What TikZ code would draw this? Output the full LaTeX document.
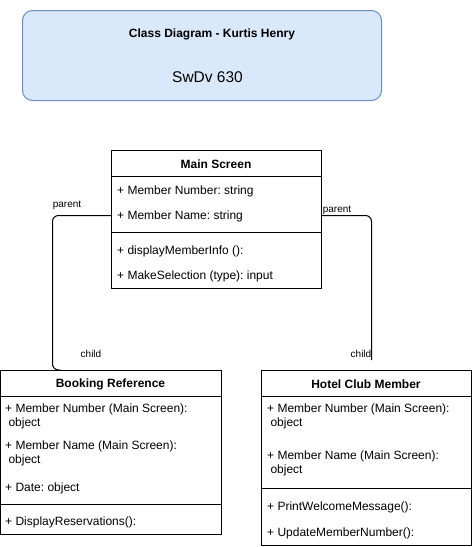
\documentclass[tikz,border=0pt]{standalone}
\usepackage{fontspec}
\setmainfont{Liberation Sans}
\frenchspacing
\begin{document}
\begin{tikzpicture}[x=1pt,y=-1pt,
  classbox/.style={draw=black,line width=1pt,fill=white,anchor=north west,inner sep=0pt},
  titlebox/.style={draw={rgb,255:red,108;green,142;blue,191},fill={rgb,255:red,218;green,232;blue,252},line width=1pt,rounded corners=10pt,anchor=north west,inner sep=0pt},
  item/.style={anchor=west,inner sep=0pt,font=\fontsize{12}{14}\selectfont},
  itemb/.style={anchor=north west,inner sep=0pt,align=left,font=\fontsize{12}{14}\selectfont},
  head/.style={inner sep=0pt,font=\fontsize{12}{14}\selectfont\bfseries},
  lbl/.style={inner sep=0pt,font=\fontsize{10}{12}\selectfont},
  sep/.style={line width=1pt},
  conn/.style={line width=1pt,rounded corners=6pt}]
\useasboundingbox (0,0) rectangle (472,547);

% title box
\node[titlebox,minimum width=359pt,minimum height=90pt] (tb) at (22,10) {};
\node[head] (tt) at (212,34) {Class Diagram - Kurtis Henry};
\node[inner sep=0pt,font=\fontsize{15.5}{18}\selectfont] (ts) at (207.5,77) {SwDv 630};

% Main Screen
\node[classbox,minimum width=210pt,minimum height=138pt] (ms) at (111,150) {};
\node[head] (msh) at (216,164) {Main Screen};
\draw[sep] (ms.north west) ++(0,26) -- ++(210,0);
\node[item] (ms1) at (117,191.5) {+ Member Number: string};
\node[item] (ms2) at (117,216.5) {+ Member Name: string};
\draw[sep] (ms.north west) ++(0,82.5) -- ++(210,0);
\node[item] (ms3) at (117,251.5) {+ displayMemberInfo ():};
\node[item] (ms4) at (117,276.5) {+ MakeSelection (type): input};

% Booking Reference
\node[classbox,minimum width=221pt,minimum height=164pt] (br) at (0,370) {};
\node[head] (brh) at (110.5,384) {Booking Reference};
\draw[sep] (br.north west) ++(0,26) -- ++(221,0);
\node[itemb] (br1) at (5,404) {+ Member Number (Main Screen):\\\ object};
\node[itemb] (br2) at (5,441) {+ Member Name (Main Screen):\\\ object};
\node[item] (br3) at (5,488) {+ Date: object};
\draw[sep] (br.north west) ++(0,134) -- ++(221,0);
\node[item] (br4) at (5,522) {+ DisplayReservations():};

% Hotel Club Member
\node[classbox,minimum width=210pt,minimum height=175pt] (hc) at (261,370) {};
\node[head] (hch) at (366,384) {Hotel Club Member};
\draw[sep] (hc.north west) ++(0,26) -- ++(210,0);
\node[itemb] (hc1) at (267,404) {+ Member Number (Main Screen):\\\ object};
\node[itemb] (hc2) at (267,451) {+ Member Name (Main Screen):\\\ object};
\draw[sep] (hc.north west) ++(0,118) -- ++(210,0);
\node[item] (hc3) at (267,507) {+ PrintWelcomeMessage():};
\node[item] (hc4) at (267,533) {+ UpdateMemberNumber():};

% connectors
\draw[conn] ([yshift=4pt]ms.west) -| ([xshift=-58.5pt]br.north) -- ([xshift=-50pt]br.north);
\draw[conn] ([yshift=4pt]ms.east) -| ([xshift=5pt,yshift=10pt]hc.north);

% labels
\node[lbl] (p1) at (67,205) {parent};
\node[lbl] (p2) at (337,210) {parent};
\node[lbl] (c1) at (91,354) {child};
\node[lbl] (c2) at (361,354) {child};
\end{tikzpicture}
\end{document}
